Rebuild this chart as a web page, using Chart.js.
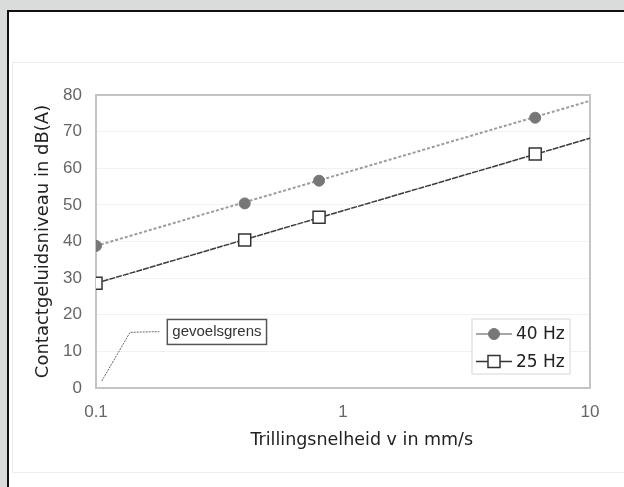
<!DOCTYPE html>
<html>
<head>
<meta charset="utf-8">
<script src="https://cdn.jsdelivr.net/npm/chart.js@4/dist/chart.umd.min.js"></script>
<style>
  body { margin: 0; background: #d9dcda; overflow: hidden; }
  #panel { position: absolute; left: 7px; top: 10px; width: 700px; height: 600px;
           background: #fff; border-left: 2px solid #111; border-top: 2px solid #111; }
  #inner { position: absolute; left: 12px; top: 62px; width: 700px; height: 409px;
           border: 1px solid #eeeeee; }
  #wrap { position: absolute; left: 0; top: 0; width: 624px; height: 487px; }
</style>
</head>
<body>
<div id="panel"></div>
<div id="inner"></div>
<div id="wrap"><canvas id="line-chart"></canvas></div>
<script>
// values
const velocity = [0.1, 0.4, 0.8, 6];
const level40 = [38.8, 50.4, 56.6, 73.8];
const level25 = [28.6, 40.4, 46.6, 63.9];

// trend lines run across the whole axis
const trendVelocity = [0.1, 10];
const trend40 = [38.8, 78.4];
const trend25 = [28.6, 68.2];

// leader line of the "gevoelsgrens" label
const leaderVelocity = [0.1055, 0.1373, 0.1804];
const leaderLevel = [1.9, 15.2, 15.4];
const labelText = 'gevoelsgrens';

const xTicks = [0.1, 1, 10];
const yMin = 0, yMax = 80, yStep = 10;

const seriesLabels = ['40 Hz', '25 Hz'];
const xTitle = 'Trillingsnelheid v in mm/s';

function pts(xs, ys) {
    return xs.map((x, i) => ({x: x, y: ys[i]}));
}

const data1 = {
    datasets: [
        {
            label: seriesLabels[0],
            data: pts(velocity, level40),
            showLine: false,
            pointStyle: 'circle',
            pointRadius: 5.5,
            pointBackgroundColor: '#777777',
            pointBorderColor: '#777777',
            borderColor: '#a8a8a8',
        },
        {
            label: seriesLabels[1],
            data: pts(velocity, level25),
            showLine: false,
            pointStyle: 'rect',
            pointRadius: 8.5,
            pointBorderWidth: 1.5,
            pointBackgroundColor: '#ffffff',
            pointBorderColor: '#333333',
            borderColor: '#3c3c3c',
        },
        {
            label: 'trend40',
            data: pts(trendVelocity, trend40),
            borderColor: '#9c9c9c',
            borderWidth: 2,
            borderDash: [3, 2],
            pointRadius: 0,
        },
        {
            label: 'trend25',
            data: pts(trendVelocity, trend25),
            borderColor: '#3a3a3a',
            borderWidth: 1.5,
            borderDash: [6, 1],
            pointRadius: 0,
        },
        {
            label: 'leader',
            data: pts(leaderVelocity, leaderLevel),
            borderColor: '#666666',
            borderWidth: 1,
            borderDash: [2, 1],
            pointRadius: 0,
        },
    ],
};

// grey frame round the plot area
const plotFrame = {
    id: 'plotFrame',
    beforeDatasetsDraw(chart) {
        const a = chart.chartArea;
        const ctx = chart.ctx;
        ctx.save();
        ctx.strokeStyle = '#c4c4c4';
        ctx.lineWidth = 2;
        ctx.strokeRect(a.left, a.top, a.right - a.left, a.bottom - a.top);
        ctx.restore();
    }
};

// boxed note, legend box and x title
const extras = {
    id: 'extras',
    afterDatasetsDraw(chart) {
        const ctx = chart.ctx;
        const xs = chart.scales.x, ys = chart.scales.y;
        const a = chart.chartArea;
        ctx.save();

        // x axis title, a little right of centre as in the original
        ctx.font = '17.5px "DejaVu Sans"';
        ctx.fillStyle = '#222';
        ctx.textAlign = 'center';
        ctx.textBaseline = 'middle';
        ctx.fillText(xTitle, a.left + (a.right - a.left) * 0.538, a.bottom + 52);
        ctx.textAlign = 'left';

        // gevoelsgrens label
        const lx = xs.getPixelForValue(0.1944);
        const ly = ys.getPixelForValue(15.3);
        ctx.font = '15px "Liberation Sans"';
        const tw = ctx.measureText(labelText).width;
        ctx.fillStyle = '#fff';
        ctx.fillRect(lx, ly - 12.5, tw + 10, 25);
        ctx.strokeStyle = '#555';
        ctx.lineWidth = 1.5;
        ctx.strokeRect(lx, ly - 12.5, tw + 10, 25);
        ctx.fillStyle = '#333';
        ctx.fillText(labelText, lx + 5, ly);

        // legend
        const bw = 98, bh = 55;
        const bx = a.right - 20 - bw, by = a.bottom - 14 - bh;
        ctx.fillStyle = '#fff';
        ctx.fillRect(bx, by, bw, bh);
        ctx.strokeStyle = '#d6d6d6';
        ctx.lineWidth = 1;
        ctx.strokeRect(bx, by, bw, bh);
        ctx.font = '17px "DejaVu Sans"';
        [0, 1].forEach(i => {
            const ds = chart.data.datasets[i];
            const cy = by + 15 + i * 27.5;
            ctx.strokeStyle = i === 0 ? '#8a8a8a' : '#333';
            ctx.lineWidth = 1.5;
            ctx.beginPath();
            ctx.moveTo(bx + 4, cy);
            ctx.lineTo(bx + 40, cy);
            ctx.stroke();
            ctx.fillStyle = ds.pointBackgroundColor;
            ctx.strokeStyle = ds.pointBorderColor;
            ctx.lineWidth = ds.pointBorderWidth || 1;
            ctx.beginPath();
            if (ds.pointStyle === 'circle') {
                ctx.arc(bx + 22, cy, ds.pointRadius, 0, Math.PI * 2);
            } else {
                const s = ds.pointRadius * Math.SQRT1_2;
                ctx.rect(bx + 22 - s, cy - s, s * 2, s * 2);
            }
            ctx.fill();
            ctx.stroke();
            ctx.fillStyle = '#222';
            ctx.fillText(ds.label, bx + 44, cy + 1);
        });
        ctx.restore();
    }
};

const config1 = {
    type: 'line',
    data: data1,
    options: {
        responsive: true,
        maintainAspectRatio: false,
        animation: false,
        layout: {
            padding: {left: 30, top: 95, right: 34, bottom: 39}
        },
        plugins: {
            legend: {display: false},
            tooltip: {enabled: false},
        },
        scales: {
            x: {
                type: 'logarithmic',
                min: 0.1,
                max: 10,
                afterBuildTicks: (scale) => {
                    scale.ticks = xTicks.map(v => ({value: v}));
                },
                afterFit: (scale) => { scale.height = 60; },
                ticks: {
                    callback: (v) => String(v),
                    color: '#666',
                    padding: 14,
                    maxRotation: 0,
                    font: {family: 'Liberation Sans', size: 17},
                },
                grid: {display: false, drawTicks: false},
                border: {display: false},
            },
            y: {
                min: yMin,
                max: yMax,
                afterFit: (scale) => { scale.width = 66; },
                ticks: {
                    stepSize: yStep,
                    color: '#666',
                    padding: 14,
                    font: {family: 'Liberation Sans', size: 17},
                },
                grid: {color: '#f1f1f1', drawTicks: false},
                border: {display: false},
                title: {
                    display: true,
                    text: 'Contactgeluidsniveau in dB(A)',
                    color: '#222',
                    padding: {top: 3, bottom: 0},
                    font: {family: 'DejaVu Sans', size: 18},
                },
            },
        },
    },
    plugins: [plotFrame, extras],
};

const lineChart = document.getElementById('line-chart');
new Chart(lineChart, config1);
</script>
</body>
</html>
